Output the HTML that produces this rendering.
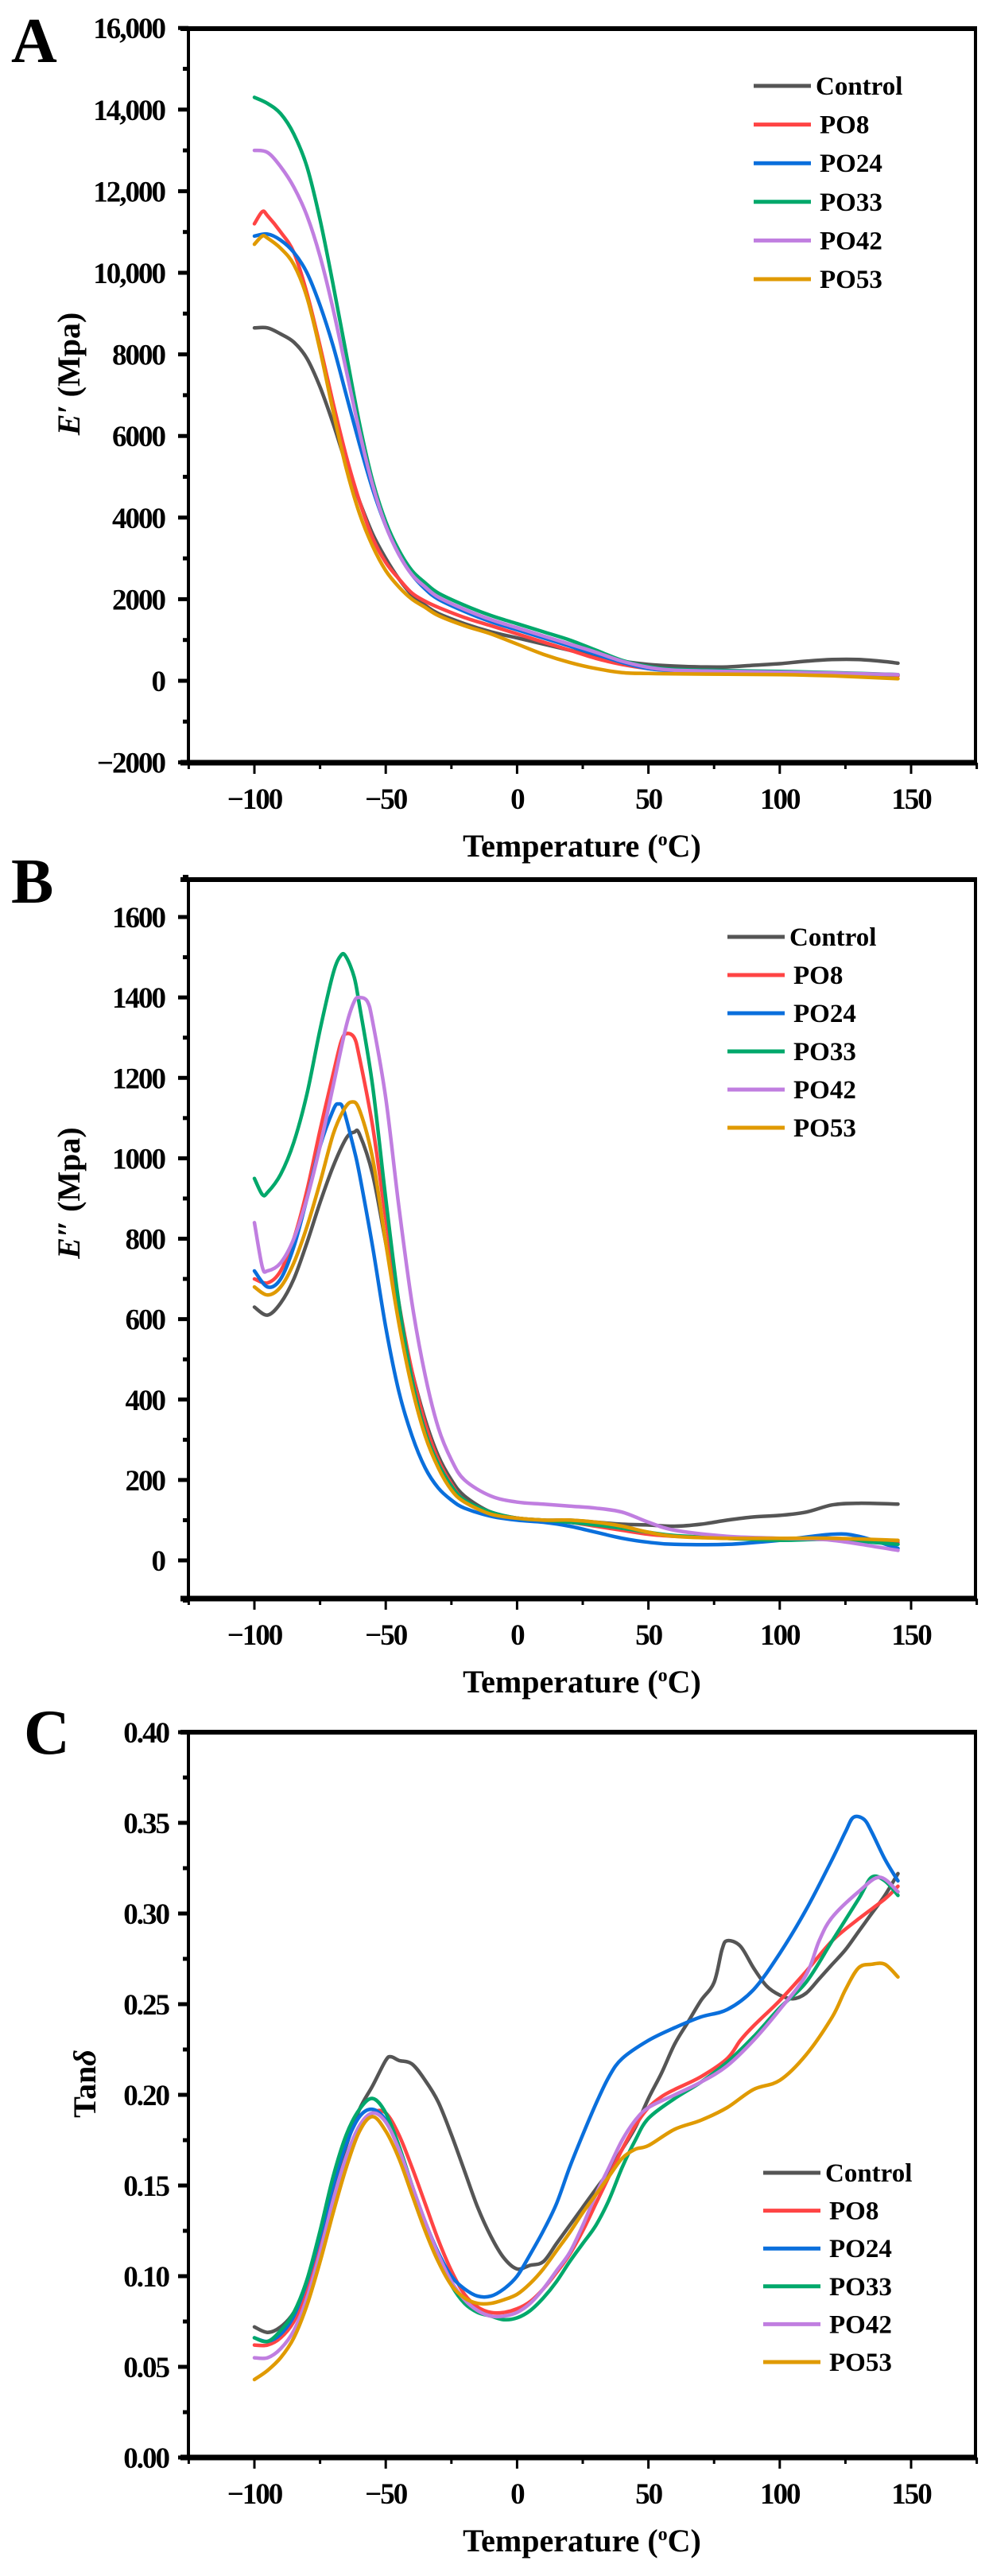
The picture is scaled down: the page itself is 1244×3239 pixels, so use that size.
<!DOCTYPE html>
<html><head><meta charset="utf-8">
<style>
html,body{margin:0;padding:0;background:#fff;}
svg{display:block;}
text{font-family:"Liberation Serif",serif;font-weight:bold;fill:#000;}
.tick{font-size:37px;letter-spacing:-2px;}
.leg{font-size:33px;}
.ttl{font-size:40px;}
.letter{font-size:80px;}
</style></head>
<body>
<svg id="chart" width="1244" height="3239" viewBox="0 0 1244 3239" xmlns="http://www.w3.org/2000/svg"></svg>
<script>
// ---- shared data ----
const seriesNames = ["Control","PO8","PO24","PO33","PO42","PO53"];
const seriesColors = ["#555555","#ff4444","#0a6fdc","#00a86b","#c07ee0","#e09a00"];
const xTicks = [-100,-50,0,50,100,150];

// ---- Panel A: storage modulus E' (MPa) ----
const aTicks = [16000,14000,12000,10000,8000,6000,4000,2000,0,-2000];
const aTickLabels = ["16,000","14,000","12,000","10,000","8000","6000","4000","2000","0","\u22122000"];
const aControlT = [-100,-95,-90,-85,-80,-75,-70,-65,-60,-55,-50,-45,-40,-35,-30,-20,-10,0,10,20,30,40,50,60,70,80,90,100,110,120,130,140,145];
const aControlV = [8650,8650,8500,8300,7900,7200,6300,5300,4400,3600,3000,2500,2100,1850,1650,1400,1200,1050,900,750,600,480,400,360,340,340,380,420,480,520,520,470,430];
const aPO8T = [-100,-97,-95,-90,-85,-80,-75,-70,-65,-60,-55,-50,-45,-40,-35,-30,-20,-10,0,10,20,30,40,50,60,80,100,120,145];
const aPO8V = [11200,11500,11400,11000,10500,9500,8200,6800,5500,4400,3500,2900,2500,2150,1950,1800,1550,1350,1150,950,750,550,400,300,250,220,200,170,120];
const aPO24T = [-100,-95,-90,-85,-80,-75,-70,-65,-60,-55,-50,-45,-40,-35,-30,-20,-10,0,10,20,30,40,50,60,80,100,120,145];
const aPO24V = [10900,10950,10800,10500,10000,9200,8200,7000,5800,4700,3800,3100,2600,2250,2000,1700,1450,1250,1050,850,650,450,300,250,230,210,180,150];
const aPO33T = [-100,-95,-90,-85,-80,-75,-70,-65,-60,-55,-50,-45,-40,-35,-30,-20,-10,0,10,20,30,40,50,60,80,100,120,145];
const aPO33V = [14300,14150,13900,13400,12600,11300,9700,8000,6300,4900,3900,3200,2700,2400,2150,1850,1600,1400,1200,1000,750,500,350,280,250,230,200,150];
const aPO42T = [-100,-95,-90,-85,-80,-75,-70,-65,-60,-55,-50,-45,-40,-35,-30,-20,-10,0,10,20,30,40,50,60,80,100,120,145];
const aPO42V = [13000,12950,12600,12100,11400,10400,9100,7600,6100,4800,3800,3100,2600,2300,2050,1750,1500,1300,1100,900,700,480,330,260,230,210,190,150];
const aPO53T = [-100,-97,-95,-90,-85,-80,-75,-70,-65,-60,-55,-50,-45,-40,-35,-30,-20,-10,0,10,20,30,40,50,60,80,100,120,145];
const aPO53V = [10700,10900,10850,10600,10200,9400,8100,6600,5200,4100,3300,2700,2300,2000,1800,1600,1350,1150,900,650,450,300,200,180,170,160,150,120,50];

// ---- Panel B: loss modulus E'' (MPa) ----
const bTicks = [1600,1400,1200,1000,800,600,400,200,0];
const bTickLabels = ["1600","1400","1200","1000","800","600","400","200","0"];
const bControlT = [-100,-95,-90,-85,-80,-75,-70,-65,-62,-60,-55,-50,-45,-40,-35,-30,-25,-20,-10,0,10,20,30,40,50,60,70,80,90,100,110,120,130,145];
const bControlV = [630,610,640,700,790,890,980,1050,1065,1060,960,790,620,470,350,260,200,160,120,105,100,100,95,90,88,85,90,100,108,112,120,138,142,140];
const bPO8T = [-100,-95,-90,-85,-80,-75,-70,-67,-65,-62,-60,-55,-50,-45,-40,-35,-30,-25,-20,-10,0,10,20,30,40,50,60,80,100,120,145];
const bPO8V = [700,690,720,800,920,1070,1210,1290,1310,1300,1250,1080,850,640,470,340,250,190,150,120,105,100,95,85,75,65,60,55,52,55,45];
const bPO24T = [-100,-95,-90,-85,-80,-75,-70,-68,-66,-62,-60,-55,-50,-45,-40,-35,-30,-25,-20,-10,0,10,20,30,40,50,60,80,100,120,130,145];
const bPO24V = [720,680,700,780,900,1030,1120,1135,1120,1020,960,780,580,420,310,230,180,150,130,110,100,95,85,70,55,45,40,40,50,65,60,30];
const bPO33T = [-100,-97,-95,-90,-85,-80,-75,-70,-67,-65,-62,-60,-55,-50,-45,-40,-35,-30,-25,-20,-10,0,10,20,30,40,50,60,80,100,120,145];
const bPO33V = [950,910,915,960,1040,1160,1320,1460,1505,1500,1450,1380,1180,900,640,450,320,240,185,150,120,105,100,95,88,80,70,62,55,50,52,40];
const bPO42T = [-100,-97,-95,-90,-85,-80,-75,-70,-65,-62,-60,-57,-55,-50,-45,-40,-35,-30,-25,-20,-10,0,10,20,30,40,50,60,80,100,120,145];
const bPO42V = [840,730,720,740,800,900,1030,1180,1330,1390,1400,1390,1340,1150,880,640,460,330,250,200,160,145,140,135,130,120,95,75,60,55,50,25];
const bPO53T = [-100,-95,-90,-85,-80,-75,-70,-66,-63,-60,-55,-50,-45,-40,-35,-30,-25,-20,-10,0,10,20,30,40,50,60,80,100,120,145];
const bPO53V = [680,660,680,740,830,940,1060,1120,1140,1120,1000,790,590,430,310,230,175,145,115,105,100,100,95,85,70,60,55,55,55,50];

// ---- Panel C: tan delta ----
const cTicks = [0.40,0.35,0.30,0.25,0.20,0.15,0.10,0.05,0.00];
const cTickLabels = ["0.40","0.35","0.30","0.25","0.20","0.15","0.10","0.05","0.00"];
const cControlT = [-100,-95,-90,-85,-80,-75,-70,-65,-60,-55,-50,-48,-45,-40,-35,-30,-25,-20,-15,-10,-5,0,5,10,15,20,25,30,35,40,45,50,55,60,65,70,75,78,80,85,90,95,100,105,110,115,120,125,130,135,140,145];
const cControlV = [0.072,0.069,0.072,0.080,0.095,0.120,0.148,0.172,0.192,0.205,0.219,0.221,0.219,0.217,0.208,0.196,0.178,0.158,0.138,0.122,0.110,0.104,0.106,0.108,0.118,0.128,0.138,0.148,0.158,0.170,0.182,0.198,0.212,0.228,0.240,0.252,0.262,0.280,0.285,0.282,0.270,0.260,0.255,0.253,0.256,0.264,0.272,0.280,0.290,0.300,0.310,0.322];
const cPO8T = [-100,-95,-90,-85,-80,-75,-70,-65,-60,-55,-50,-45,-40,-35,-30,-25,-20,-15,-10,-5,0,5,10,15,20,25,30,35,40,45,50,55,60,70,80,85,90,100,110,120,130,140,145];
const cPO8V = [0.062,0.062,0.066,0.075,0.092,0.115,0.140,0.162,0.180,0.190,0.190,0.178,0.160,0.140,0.120,0.103,0.090,0.083,0.080,0.080,0.082,0.086,0.093,0.102,0.112,0.125,0.140,0.155,0.170,0.183,0.193,0.199,0.203,0.210,0.220,0.230,0.238,0.252,0.268,0.285,0.297,0.308,0.315];
const cPO24T = [-100,-95,-90,-85,-80,-75,-70,-65,-60,-55,-50,-45,-40,-35,-30,-25,-20,-15,-10,-5,0,5,10,15,20,25,30,35,40,50,60,70,80,90,100,110,120,125,128,132,135,140,145];
const cPO24V = [0.066,0.064,0.068,0.078,0.097,0.122,0.150,0.173,0.188,0.192,0.186,0.170,0.150,0.130,0.113,0.100,0.093,0.089,0.089,0.093,0.100,0.112,0.125,0.140,0.160,0.178,0.195,0.210,0.220,0.230,0.237,0.243,0.247,0.258,0.278,0.302,0.330,0.345,0.353,0.352,0.345,0.330,0.318];
const cPO33T = [-100,-95,-90,-85,-80,-75,-70,-65,-60,-55,-50,-45,-40,-35,-30,-25,-20,-15,-10,-5,0,5,10,15,20,25,30,35,40,45,50,60,70,80,90,100,110,120,130,135,140,145];
const cPO33V = [0.066,0.064,0.070,0.080,0.098,0.125,0.155,0.178,0.192,0.198,0.190,0.172,0.150,0.128,0.110,0.095,0.085,0.080,0.078,0.076,0.077,0.081,0.088,0.097,0.108,0.118,0.128,0.142,0.160,0.175,0.187,0.198,0.207,0.218,0.232,0.248,0.262,0.285,0.308,0.320,0.318,0.310];
const cPO42T = [-100,-95,-90,-85,-80,-75,-70,-65,-60,-55,-50,-45,-40,-35,-30,-25,-20,-15,-10,-5,0,5,10,15,20,25,30,35,40,45,50,60,70,80,90,100,110,115,120,130,138,145];
const cPO42V = [0.055,0.055,0.060,0.070,0.088,0.113,0.142,0.166,0.183,0.190,0.185,0.170,0.150,0.130,0.112,0.097,0.087,0.081,0.078,0.078,0.080,0.085,0.093,0.103,0.113,0.128,0.145,0.160,0.175,0.186,0.193,0.200,0.207,0.216,0.230,0.247,0.266,0.285,0.298,0.312,0.320,0.312];
const cPO53T = [-100,-95,-90,-85,-80,-75,-70,-65,-60,-55,-50,-45,-40,-35,-30,-25,-20,-15,-10,-5,0,5,10,15,20,25,30,35,40,45,50,60,70,80,90,100,110,120,125,130,135,140,145];
const cPO53V = [0.043,0.048,0.055,0.066,0.084,0.108,0.135,0.160,0.180,0.188,0.180,0.165,0.145,0.125,0.108,0.095,0.088,0.085,0.085,0.087,0.090,0.096,0.104,0.114,0.124,0.135,0.145,0.155,0.165,0.170,0.172,0.181,0.186,0.193,0.203,0.208,0.222,0.243,0.258,0.270,0.272,0.272,0.265];

const NS = "http://www.w3.org/2000/svg";
const svg = document.getElementById("chart");
function mk(tag, attrs, parent){ const e=document.createElementNS(NS,tag); for(const k in attrs) e.setAttribute(k,attrs[k]); (parent||svg).appendChild(e); return e; }

const X0 = 237, X1 = 1227;
function xScale(v){ return 320 + (v + 100) * 3.304; }

function smoothPath(P){
  let d = "M" + P[0][0].toFixed(1) + "," + P[0][1].toFixed(1);
  for (let i = 0; i < P.length - 1; i++) {
    const p0 = P[i-1] || P[i], p1 = P[i], p2 = P[i+1], p3 = P[i+2] || P[i+1];
    const c1x = p1[0] + (p2[0]-p0[0])/6, c1y = p1[1] + (p2[1]-p0[1])/6;
    const c2x = p2[0] - (p3[0]-p1[0])/6, c2y = p2[1] - (p3[1]-p1[1])/6;
    d += " C" + c1x.toFixed(1)+","+c1y.toFixed(1)+" "+c2x.toFixed(1)+","+c2y.toFixed(1)+" "+p2[0].toFixed(1)+","+p2[1].toFixed(1);
  }
  return d;
}

function drawPanel(cfg){
  const g = mk("g", {});
  
  
  const y = cfg.yScale;
  cfg.series.forEach((s, i) => {
    const P = s[0].map((t, j) => [xScale(t), y(s[1][j])]);
    const pl = mk("path", {d: smoothPath(P), fill: "none", stroke: seriesColors[i], "stroke-width": 4.5, "stroke-linejoin": "round", "stroke-linecap": "round"}, g);
    
    
  });
  const fr = mk("rect", {x: X0, y: cfg.top, width: X1 - X0, height: cfg.bottom - cfg.top, fill: "none", stroke: "#000", "stroke-width": 4}, g);
  
  
  mk("line", {x1: X0 - 10, y1: cfg.top, x2: X1 + 2, y2: cfg.top, stroke: "#000", "stroke-width": 6}, g);
  mk("line", {x1: X0 - 10, y1: cfg.bottom, x2: X1 + 2, y2: cfg.bottom, stroke: "#000", "stroke-width": 7}, g);
  cfg.ticks.forEach((v, i) => {
    const yy = y(v);
    mk("line", {x1: X0 - 13, y1: yy, x2: X0, y2: yy, stroke: "#000", "stroke-width": 5}, g);
    const t = mk("text", {x: cfg.labelRight, y: yy + 13, "text-anchor": "end", class: "tick"}, g);
    t.textContent = cfg.labels[i];
    
    
    if (i < cfg.ticks.length - 1) {
      const ym = y((v + cfg.ticks[i + 1]) / 2);
      mk("line", {x1: X0 - 7, y1: ym, x2: X0, y2: ym, stroke: "#000", "stroke-width": 5}, g);
    }
  });
  if (cfg.extraMinor) cfg.extraMinor.forEach(v => { const ym=y(v); mk("line", {x1: X0 - 7, y1: ym, x2: X0, y2: ym, stroke: "#000", "stroke-width": 5}, g); });
  xTicks.forEach(v => {
    const xx = xScale(v);
    mk("line", {x1: xx, y1: cfg.bottom, x2: xx, y2: cfg.bottom + 14, stroke: "#000", "stroke-width": 3}, g);
    const t = mk("text", {x: xx, y: cfg.bottom + 58, "text-anchor": "middle", class: "tick"}, g);
    t.textContent = v < 0 ? "\u2212" + Math.abs(v) : String(v);
    
    
  });
  [-125,-75,-25,25,75,125,175].forEach(v => { const xx=xScale(v); mk("line", {x1: xx, y1: cfg.bottom, x2: xx, y2: cfg.bottom + 8, stroke: "#000", "stroke-width": 3}, g); });
  const xt = mk("text", {x: 732, y: cfg.bottom + 118, "text-anchor": "middle", class: "ttl"}, g);
  xt.innerHTML = 'Temperature (<tspan dy="-14" font-size="24">o</tspan><tspan dy="14">C)</tspan>';
  
  
  const yt = mk("text", {x: 0, y: 0, "text-anchor": "middle", class: "ttl", transform: "translate(" + cfg.yTitleX + "," + cfg.yTitleY + ") rotate(-90)"}, g);
  yt.innerHTML = cfg.yTitle;
  
  
  const pl = mk("text", {x: cfg.letterX, y: cfg.letterY, class: "letter"}, g);
  pl.textContent = cfg.letter;
  
  
  seriesNames.forEach((n, i) => {
    const ly = cfg.legY + i * cfg.legStep;
    const ln = mk("line", {x1: cfg.legX, y1: ly, x2: cfg.legX + 72, y2: ly, stroke: seriesColors[i], "stroke-width": 5}, g);
    
    
    const lt = mk("text", {x: cfg.legX + 78 + (i ? 5 : 0), y: ly + 11, class: "leg"}, g);
    lt.textContent = n;
    
    
  });
}

drawPanel({
  name: "panel-a-storage-modulus", letter: "A", letterX: 14, letterY: 78,
  top: 36, bottom: 959, yScale: v => 856 - v * 0.0513,
  ticks: aTicks, labels: aTickLabels, labelRight: 207,
  yTitle: '<tspan font-style="italic">E′</tspan> (Mpa)', yTitleX: 100, yTitleY: 470,
  legX: 948, legY: 108, legStep: 48.6,
  series: [[aControlT,aControlV],[aPO8T,aPO8V],[aPO24T,aPO24V],[aPO33T,aPO33V],[aPO42T,aPO42V],[aPO53T,aPO53V]]
});
drawPanel({
  name: "panel-b-loss-modulus", letter: "B", letterX: 14, letterY: 1135,
  top: 1106, bottom: 2010, yScale: v => 1962 - v * 0.5056,
  ticks: bTicks, labels: bTickLabels, labelRight: 207, extraMinor: [1700, -100],
  yTitle: '<tspan font-style="italic">E″</tspan> (Mpa)', yTitleX: 100, yTitleY: 1500,
  legX: 915, legY: 1178, legStep: 48,
  series: [[bControlT,bControlV],[bPO8T,bPO8V],[bPO24T,bPO24V],[bPO33T,bPO33V],[bPO42T,bPO42V],[bPO53T,bPO53V]]
});
drawPanel({
  name: "panel-c-tan-delta", letter: "C", letterX: 30, letterY: 2205,
  top: 2178, bottom: 3090, yScale: v => 3090 - v * 2280,
  ticks: cTicks, labels: cTickLabels, labelRight: 212,
  yTitle: 'Tan<tspan font-style="italic">δ</tspan>', yTitleX: 120, yTitleY: 2620,
  legX: 960, legY: 2732, legStep: 47.6,
  series: [[cControlT,cControlV],[cPO8T,cPO8V],[cPO24T,cPO24V],[cPO33T,cPO33V],[cPO42T,cPO42V],[cPO53T,cPO53V]]
});
</script>
</body></html>
